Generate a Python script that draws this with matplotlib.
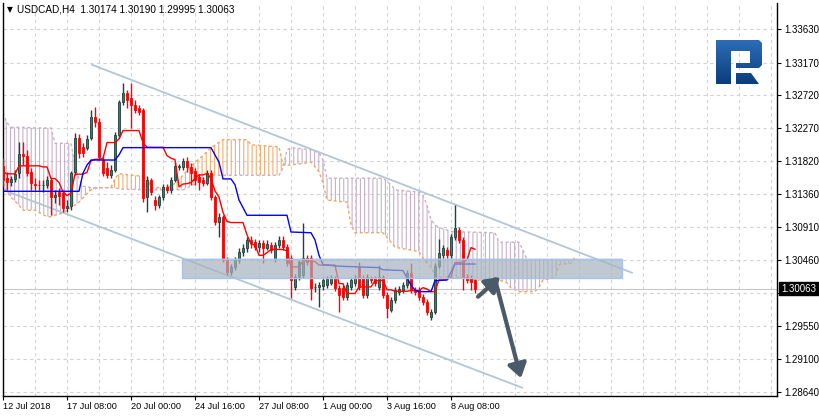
import numpy as np
import pandas as pd
import matplotlib
matplotlib.use("Agg")
import matplotlib.pyplot as plt
from matplotlib.patches import Rectangle, Polygon
from matplotlib.colors import LinearSegmentedColormap

symbol = "USDCAD,H4"

# H4 candles, 12 Jul 2018 16:00 .. 9 Aug 2018 08:00
opens = [
    1.3175, 1.3158, 1.3153, 1.3157, 1.3165, 1.3191, 1.3189, 1.3167, 1.3150, 1.3149,
    1.3149, 1.3149, 1.3156, 1.3132, 1.3139, 1.3138, 1.3117, 1.3120, 1.3167, 1.3213,
    1.3201, 1.3200, 1.3213, 1.3242, 1.3235, 1.3183, 1.3172, 1.3162, 1.3169, 1.3217,
    1.3263, 1.3275, 1.3268, 1.3259, 1.3255, 1.3252, 1.3132, 1.3156, 1.3128, 1.3121,
    1.3132, 1.3146, 1.3142, 1.3156, 1.3173, 1.3173, 1.3182, 1.3173, 1.3168, 1.3160,
    1.3156, 1.3151, 1.3165, 1.3132, 1.3098, 1.3105, 1.3046, 1.3029, 1.3036, 1.3046,
    1.3057, 1.3062, 1.3073, 1.3070, 1.3063, 1.3069, 1.3062, 1.3066, 1.3047, 1.3066,
    1.3073, 1.3063, 1.3048, 1.3008, 1.3022, 1.3025, 1.3048, 1.3048, 1.3008, 1.3008,
    1.3010, 1.3011, 1.3014, 1.3021, 1.3007, 1.3007, 1.2995, 1.3008, 1.3014, 1.3036,
    1.3021, 1.2997, 1.3021, 1.3021, 1.3008, 1.3022, 1.2997, 1.2977, 1.2991, 1.3002,
    1.3004, 1.3011, 1.3028, 1.3004, 1.3004, 1.2995, 1.2988, 1.2967, 1.2974, 1.3037,
    1.3052, 1.3059, 1.3052, 1.3077, 1.3087, 1.3073, 1.3022, 1.3021, 1.30174,
]
highs = [
    1.3186, 1.3167, 1.3161, 1.3169, 1.3208, 1.3208, 1.3197, 1.3172, 1.3158, 1.3156,
    1.3156, 1.3161, 1.3158, 1.3142, 1.3145, 1.3142, 1.3128, 1.3168, 1.3220, 1.3219,
    1.3206, 1.3217, 1.3252, 1.3256, 1.3241, 1.3189, 1.3180, 1.3176, 1.3222, 1.3266,
    1.3289, 1.3279, 1.3289, 1.3266, 1.3259, 1.3255, 1.3161, 1.3158, 1.3134, 1.3135,
    1.3150, 1.3150, 1.3160, 1.3180, 1.3178, 1.3186, 1.3187, 1.3179, 1.3172, 1.3164,
    1.3160, 1.3169, 1.3169, 1.3135, 1.3110, 1.3107, 1.3050, 1.3040, 1.3050, 1.3062,
    1.3068, 1.3077, 1.3079, 1.3074, 1.3073, 1.3073, 1.3073, 1.3070, 1.3070, 1.3079,
    1.3079, 1.3068, 1.3052, 1.3026, 1.3046, 1.3096, 1.3052, 1.3052, 1.3014, 1.3015,
    1.3022, 1.3024, 1.3025, 1.3024, 1.3011, 1.3011, 1.3015, 1.3022, 1.3025, 1.3043,
    1.3025, 1.3026, 1.3024, 1.3024, 1.3039, 1.3025, 1.3002, 1.2995, 1.3008, 1.3010,
    1.3015, 1.3032, 1.3041, 1.3008, 1.3008, 1.2999, 1.2992, 1.2978, 1.3041, 1.3074,
    1.3066, 1.3063, 1.3081, 1.3121, 1.3091, 1.3077, 1.3026, 1.3025, 1.30190,
]
lows = [
    1.3147, 1.3142, 1.3147, 1.3153, 1.3158, 1.3176, 1.3161, 1.3142, 1.3142, 1.3142,
    1.3139, 1.3145, 1.3107, 1.3124, 1.3121, 1.3112, 1.3112, 1.3114, 1.3162, 1.3186,
    1.3187, 1.3197, 1.3211, 1.3228, 1.3183, 1.3161, 1.3158, 1.3158, 1.3167, 1.3213,
    1.3259, 1.3255, 1.3227, 1.3248, 1.3245, 1.3125, 1.3112, 1.3135, 1.3114, 1.3117,
    1.3128, 1.3138, 1.3138, 1.3153, 1.3169, 1.3169, 1.3167, 1.3149, 1.3149, 1.3142,
    1.3147, 1.3149, 1.3128, 1.3094, 1.3077, 1.3043, 1.3025, 1.3025, 1.3032, 1.3041,
    1.3051, 1.3057, 1.3062, 1.3059, 1.3057, 1.3041, 1.3059, 1.3055, 1.3043, 1.3062,
    1.3059, 1.3037, 1.2993, 1.3004, 1.3018, 1.3021, 1.3039, 1.2991, 1.3002, 1.2981,
    1.3004, 1.3007, 1.3011, 1.3003, 1.2974, 1.2991, 1.2991, 1.3004, 1.3010, 1.3004,
    1.2993, 1.2993, 1.3014, 1.3010, 1.3004, 1.2993, 1.2966, 1.2974, 1.2986, 1.2997,
    1.3000, 1.3007, 1.3000, 1.2997, 1.2991, 1.2984, 1.2970, 1.2963, 1.2971, 1.3035,
    1.3048, 1.3048, 1.3048, 1.3073, 1.3069, 1.3004, 1.3014, 1.3004, 1.29995,
]
closes = [
    1.3156, 1.3153, 1.3157, 1.3164, 1.3191, 1.3189, 1.3165, 1.3151, 1.3149, 1.3148,
    1.3149, 1.3156, 1.3132, 1.3135, 1.3134, 1.3117, 1.3120, 1.3165, 1.3213, 1.3193,
    1.3193, 1.3212, 1.3242, 1.3235, 1.3187, 1.3165, 1.3162, 1.3169, 1.3217, 1.3263,
    1.3275, 1.3266, 1.3259, 1.3252, 1.3249, 1.3131, 1.3156, 1.3139, 1.3121, 1.3132,
    1.3146, 1.3142, 1.3156, 1.3175, 1.3175, 1.3182, 1.3173, 1.3165, 1.3156, 1.3153,
    1.3151, 1.3165, 1.3132, 1.3098, 1.3105, 1.3046, 1.3029, 1.3036, 1.3046, 1.3057,
    1.3062, 1.3073, 1.3069, 1.3063, 1.3069, 1.3062, 1.3068, 1.3059, 1.3066, 1.3073,
    1.3063, 1.3041, 1.3018, 1.3022, 1.3043, 1.3048, 1.3043, 1.3007, 1.3008, 1.3011,
    1.3018, 1.3019, 1.3021, 1.3007, 1.2997, 1.2995, 1.3011, 1.3018, 1.3021, 1.3008,
    1.2997, 1.3022, 1.3018, 1.3014, 1.3022, 1.2997, 1.2980, 1.2991, 1.3004, 1.3006,
    1.3011, 1.3028, 1.3004, 1.3002, 1.2995, 1.2988, 1.2974, 1.2974, 1.3037, 1.3055,
    1.3062, 1.3052, 1.3077, 1.3090, 1.3073, 1.3021, 1.3018, 1.3015, 1.30063,
]

# kijun-sen (bar index -> price)
kijun_bars = [0, 19, 20, 21, 22, 28, 29, 30, 52, 53, 54, 55, 57, 58, 59, 61, 71, 72,
              77, 78, 79, 80, 84, 94, 95, 100, 101, 102, 103, 104, 107, 108, 111, 112,
              113, 118]
kijun_vals = [1.3140, 1.3140, 1.3165, 1.3176, 1.3183, 1.3183, 1.3190, 1.3200, 1.3200,
              1.3190, 1.3180, 1.3157, 1.3157, 1.3149, 1.3128, 1.3107, 1.3107, 1.3084,
              1.3083, 1.3073, 1.3052, 1.3039, 1.3037, 1.3035, 1.3032, 1.3031, 1.3021,
              1.3011, 1.3004, 1.3002, 1.3002, 1.3017, 1.3018, 1.3029, 1.3040, 1.3040]

# ichimoku cloud (senkou span A / B, already shifted forward)
cloud_bars = [0, 1, 2, 4, 5, 8, 11, 12, 13, 15, 17, 18, 19, 20, 22, 24, 27, 28, 29, 36,
              37, 41, 43, 45, 48, 50, 52, 55, 61, 62, 69, 70, 71, 72, 77, 79, 80, 81, 86, 87,
              88, 95, 97, 98, 104, 105, 106, 107, 108, 109, 112, 114, 116, 123, 124, 126, 127,
              129, 130, 131, 133, 134, 135, 138, 139, 142, 143]
span_a = [1.3151, 1.3139, 1.3132, 1.3121, 1.3114, 1.3114, 1.3105, 1.3105, 1.3107, 1.3110,
          1.3118, 1.3121, 1.3125, 1.3131, 1.3142, 1.3145, 1.3145, 1.3158, 1.3164, 1.3160,
          1.3145, 1.3145, 1.3151, 1.3162, 1.3180, 1.3189, 1.3200, 1.3211, 1.3211, 1.3204,
          1.3201, 1.3176, 1.3176, 1.3176, 1.3180, 1.3167, 1.3151, 1.3128, 1.3125, 1.3094,
          1.3083, 1.3083, 1.3070, 1.3063, 1.3057, 1.3048, 1.3041, 1.3035, 1.3025, 1.3022,
          1.3022, 1.3022, 1.3018, 1.3018, 1.3018, 1.3014, 1.3007, 1.3002, 1.3002, 1.3002,
          1.3002, 1.3008, 1.3018, 1.3021, 1.3039, 1.3041, 1.3050]
span_b = [1.3248, 1.3234, 1.3228, 1.3228, 1.3228, 1.3227, 1.3227, 1.3227, 1.3206, 1.3206,
          1.3206, 1.3176, 1.3156, 1.3147, 1.3145, 1.3145, 1.3145, 1.3145, 1.3143, 1.3142,
          1.3142, 1.3142, 1.3142, 1.3142, 1.3150, 1.3157, 1.3162, 1.3162, 1.3162, 1.3162,
          1.3162, 1.3172, 1.3197, 1.3200, 1.3197, 1.3193, 1.3183, 1.3158, 1.3158, 1.3158,
          1.3158, 1.3158, 1.3149, 1.3142, 1.3139, 1.3134, 1.3121, 1.3101, 1.3094, 1.3090,
          1.3085, 1.3084, 1.3084, 1.3083, 1.3070, 1.3070, 1.3070, 1.3070, 1.3059, 1.3046,
          1.3046, 1.3046, 1.3046, 1.3046, 1.3046, 1.3046, 1.3046]

time_labels = ["12 Jul 2018", "17 Jul 08:00", "20 Jul 00:00", "24 Jul 16:00",
               "27 Jul 08:00", "1 Aug 00:00", "3 Aug 16:00", "8 Aug 08:00"]
time_label_bars = [0, 16, 32, 48, 64, 80, 96, 112]
price_ticks = [1.33630, 1.33170, 1.32720, 1.32270, 1.31820, 1.31360, 1.30910,
               1.30460, 1.30005, 1.29550, 1.29100, 1.28640]

# drawn objects (bar index, price)
channel_upper = ([22.25, 157.25], [1.3314, 1.3028])
channel_lower = ([0.0, 129.75], [1.3142, 1.2870])
zone_bars = (44.75, 154.75)
zone_prices = (1.3021, 1.3047)
arrow_up = ((118.75, 1.2995), (124.25, 1.3022))
arrow_down = ((123.0, 1.3019), (129.5, 1.2883))

GREEN = "#3E7D64"
GREEN_EDGE = "#22403A"
RED = "#FF0000"
BLUE = "#0000FF"
SANDY = "#F4A460"
THISTLE = "#C9AFC9"
CHANNEL = "#B2C6D8"
ARROW = "#4B5A69"
GRID = "#D2D2D2"

plt.rcParams["font.family"] = ["Liberation Sans", "DejaVu Sans"]
plt.rcParams["hatch.linewidth"] = 0.8

fig = plt.figure(figsize=(8.2, 4.16), dpi=100)
ax = fig.add_axes([3 / 820, 20 / 416, 774 / 820, 393 / 416])
ax.set_xlim(0, 193.5)
ax.set_ylim(1.28585, 1.33989)

o, h, l, c = (np.array(v) for v in (opens, highs, lows, closes))
x = np.arange(len(c))
up = c >= o
dn = ~up

# cloud
cb = np.array(cloud_bars)
sa = np.array(span_a)
sb = np.array(span_b)
ax.fill_between(cb, sa, sb, where=sa >= sb, interpolate=True, facecolor="none",
                edgecolor=(0.96, 0.64, 0.38, 0.9), linewidth=0, hatch="||||", zorder=1)
ax.fill_between(cb, sa, sb, where=sb > sa, interpolate=True, facecolor="none",
                edgecolor=(0.76, 0.66, 0.77, 0.9), linewidth=0, hatch="||||", zorder=1)
ax.plot(cb, sa, color=SANDY, lw=1, ls=(0, (2, 2)), zorder=1.5)
ax.plot(cb, sb, color=THISTLE, lw=1, ls=(0, (2, 2)), zorder=1.5)

# channel
ax.plot(*channel_upper, color=CHANNEL, lw=1.3, zorder=2)
ax.plot(*channel_lower, color=CHANNEL, lw=1.3, zorder=2)

# current price line
ax.axhline(c[-1], color="#C8C8C8", lw=0.8, zorder=1.8)

# candles
ax.vlines(x[up], l[up], h[up], color=GREEN_EDGE, lw=1, zorder=3)
ax.vlines(x[dn], l[dn], h[dn], color=RED, lw=1, zorder=3)
ax.bar(x[up], (c - o)[up], bottom=o[up], width=0.62, color=GREEN,
       edgecolor=GREEN_EDGE, lw=0.6, zorder=3.1)
ax.bar(x[dn], (o - c)[dn], bottom=c[dn], width=0.62, color=RED,
       edgecolor=RED, lw=0.6, zorder=3.1)

# tenkan-sen from the candles, kijun as read
tenkan = (pd.Series(h).rolling(9, min_periods=1).max()
          + pd.Series(l).rolling(9, min_periods=1).min()) / 2
ax.plot(x, tenkan, color=RED, lw=1, zorder=4)
ax.plot(kijun_bars, kijun_vals, color=BLUE, lw=1, zorder=4)

# support/resistance zone
zx0, zx1 = zone_bars
zy0, zy1 = zone_prices
ax.add_patch(Rectangle((zx0, zy0 - 0.00012), zx1 - zx0, zy1 - zy0 + 0.00024,
                       facecolor="#B8C2CC", alpha=0.25, lw=0, zorder=4.9))
ax.add_patch(Rectangle((zx0, zy0), zx1 - zx0, zy1 - zy0, facecolor="#A3B1BE",
                       alpha=0.6, edgecolor="none", zorder=5))
ax.add_patch(Rectangle((zx0, zy0), zx1 - zx0, zy1 - zy0, fill=False,
                       edgecolor="#A6C4EA", lw=1, zorder=5.1))

# arrows
for tail, head in (arrow_up, arrow_down):
    ax.annotate("", xy=head, xytext=tail,
                arrowprops=dict(arrowstyle="-|>,head_length=0.6,head_width=0.4",
                                lw=3, color=ARROW, shrinkA=0, shrinkB=0,
                                mutation_scale=14), zorder=6)

# axes styling
ax.spines["top"].set_visible(False)
for s in ("left", "right", "bottom"):
    ax.spines[s].set_color("black")
    ax.spines[s].set_linewidth(1)
ax.yaxis.tick_right()
ax.set_yticks(price_ticks)
# the tick next to the last price sits under the price tag
ax.set_yticklabels(["" if abs(v - c[-1]) < 0.001 else f"{v:.5f}" for v in price_ticks])
ax.tick_params(axis="y", direction="out", length=3, width=0.8, pad=2, labelsize=7)
ax.set_xticks(time_label_bars)
ax.set_xticklabels(time_labels, ha="left")
ax.set_xticks(range(8, 194, 8), minor=True)
ax.tick_params(axis="x", which="major", direction="out", length=3, width=0.8,
               pad=1.5, labelsize=6.6)
ax.tick_params(axis="x", which="minor", length=0)
ax.set_axisbelow(True)
ax.grid(True, which="both", axis="x", color=GRID, ls=(0, (3, 3)), lw=0.8)
ax.grid(True, which="major", axis="y", color=GRID, ls=(0, (3, 3)), lw=0.8)

# last price tag
ax.annotate(f"{c[-1]:.5f}", xy=(1.0, c[-1]), xycoords=ax.get_yaxis_transform(),
            xytext=(3, 0), textcoords="offset points", ha="left", va="center",
            fontsize=7, color="white", annotation_clip=False, zorder=10,
            bbox=dict(boxstyle="square,pad=0.2", fc="black", ec="black"))

# header
fig.text(7 / 820, 1 - 10 / 416, "\u25bc", fontsize=5.5, va="center",
         family=["DejaVu Sans"])
fig.text(17 / 820, 1 - 10 / 416,
         f"{symbol}  {o[-1]:.5f} {h[-1]:.5f} {l[-1]:.5f} {c[-1]:.5f}",
         fontsize=7.2, va="center")

# logo
lax = fig.add_axes([716 / 820, 1 - 84 / 416, 46 / 820, 44 / 416])
lax.axis("off")
grad = LinearSegmentedColormap.from_list("logo", ["#2B6DB7", "#0C3D7D"])
shapes = [
    [(716, 40), (759, 40), (762, 43), (762, 65), (759, 68), (736, 68), (736, 63),
     (750, 63), (750, 51), (731, 51), (731, 84), (716, 84)],
    [(736, 73), (751, 73), (759, 84), (736, 84)],
]
for pts in shapes:
    patch = Polygon(pts, closed=True, facecolor="none", edgecolor="none")
    lax.add_patch(patch)
    im = lax.imshow(np.linspace(0, 1, 64).reshape(-1, 1), cmap=grad, aspect="auto",
                    extent=(716, 762, 84, 40), interpolation="bilinear")
    im.set_clip_path(patch)
lax.set_xlim(716, 762)
lax.set_ylim(84, 40)

fig.savefig("out.png", dpi=100, facecolor="white")
